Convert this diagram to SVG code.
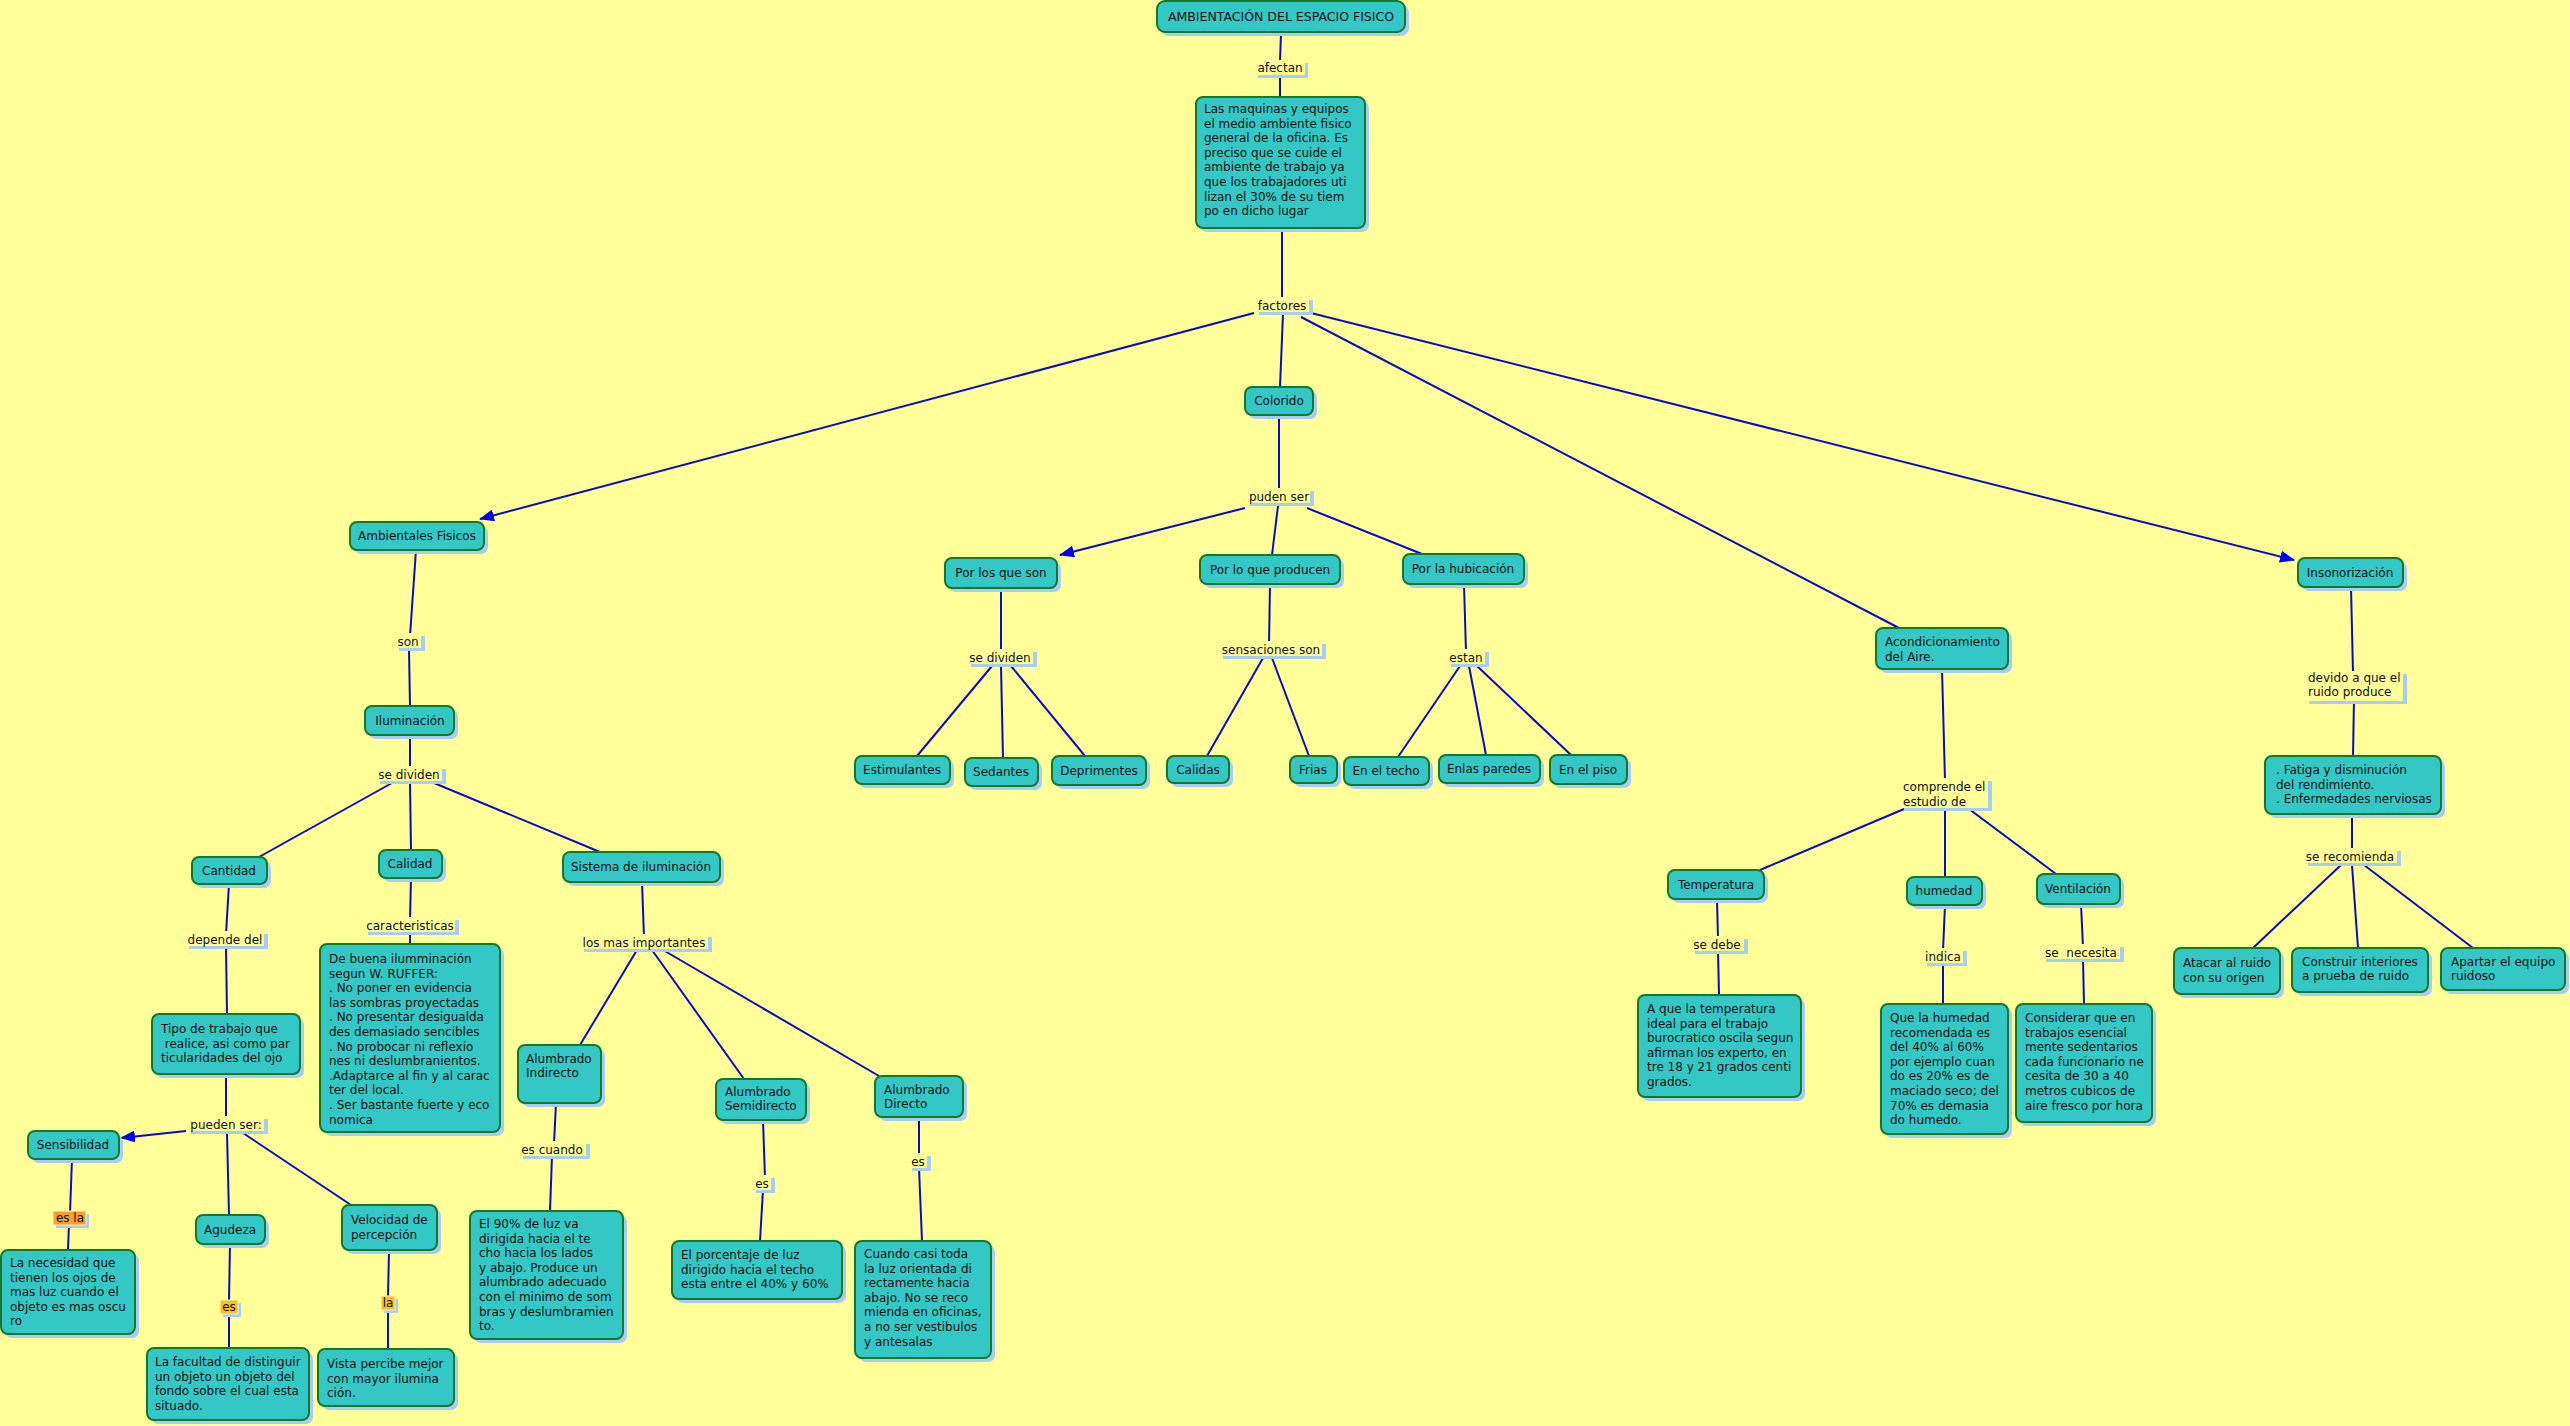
<svg xmlns="http://www.w3.org/2000/svg" width="2570" height="1426" viewBox="0 0 2570 1426">
<style>
text{font-family:"DejaVu Sans",Verdana,sans-serif;font-size:12px;fill:#111}
.m{text-anchor:middle}
.nd{fill:#33c7c6;stroke:#13782a;stroke-width:2}
.sh{fill:#a8ccf2}
.lb{fill:#ffff99}
.c line{stroke:#0b0bc4;stroke-width:2;fill:none}
.o1{fill:#f5a02a;stroke:#fff3c0;stroke-width:1}
.o2{fill:#f8c020;stroke:#fff3c0;stroke-width:1}
</style>
<defs>
<marker id="ar" markerUnits="userSpaceOnUse" markerWidth="16" markerHeight="12" refX="14" refY="6" orient="auto"><path d="M0,0 L15,6 L0,12 z" fill="#0000ff"/></marker>
</defs>
<rect width="2570" height="1426" fill="#ffff99"/>
<g id="connectors" class="c">
<line x1="1281" y1="33" x2="1280" y2="62"/>
<line x1="1280" y1="74" x2="1280" y2="97"/>
<line x1="1282" y1="230" x2="1282" y2="300"/>
<line x1="1254" y1="313" x2="480" y2="519" marker-end="url(#ar)"/>
<line x1="1283" y1="314" x2="1280" y2="387"/>
<line x1="1301" y1="317" x2="1899" y2="628"/>
<line x1="1311" y1="313" x2="2294" y2="560" marker-end="url(#ar)"/>
<line x1="1279" y1="417" x2="1279" y2="490"/>
<line x1="1245" y1="508" x2="1060" y2="555" marker-end="url(#ar)"/>
<line x1="1278" y1="506" x2="1272" y2="555"/>
<line x1="1307" y1="508" x2="1422" y2="554"/>
<line x1="1001" y1="588" x2="1001" y2="652"/>
<line x1="992" y1="666" x2="917" y2="756"/>
<line x1="1001" y1="666" x2="1003" y2="758"/>
<line x1="1011" y1="666" x2="1085" y2="756"/>
<line x1="1270" y1="584" x2="1269" y2="645"/>
<line x1="1263" y1="658" x2="1207" y2="756"/>
<line x1="1272" y1="658" x2="1309" y2="756"/>
<line x1="1464" y1="584" x2="1466" y2="652"/>
<line x1="1460" y1="666" x2="1398" y2="757"/>
<line x1="1469" y1="666" x2="1486" y2="755"/>
<line x1="1477" y1="666" x2="1571" y2="755"/>
<line x1="416" y1="550" x2="410" y2="636"/>
<line x1="409" y1="650" x2="410" y2="706"/>
<line x1="410" y1="735" x2="410" y2="769"/>
<line x1="392" y1="783" x2="259" y2="857"/>
<line x1="410" y1="783" x2="411" y2="850"/>
<line x1="434" y1="783" x2="600" y2="852"/>
<line x1="229" y1="884" x2="226" y2="934"/>
<line x1="226" y1="947" x2="227" y2="1014"/>
<line x1="226" y1="1074" x2="226" y2="1119"/>
<line x1="186" y1="1131" x2="121" y2="1138" marker-end="url(#ar)"/>
<line x1="227" y1="1133" x2="229" y2="1215"/>
<line x1="243" y1="1133" x2="351" y2="1205"/>
<line x1="72" y1="1159" x2="70" y2="1213"/>
<line x1="69" y1="1224" x2="68" y2="1250"/>
<line x1="230" y1="1244" x2="229" y2="1301"/>
<line x1="229" y1="1313" x2="229" y2="1348"/>
<line x1="389" y1="1250" x2="388" y2="1297"/>
<line x1="388" y1="1309" x2="388" y2="1349"/>
<line x1="411" y1="878" x2="410" y2="920"/>
<line x1="410" y1="932" x2="410" y2="944"/>
<line x1="642" y1="882" x2="644" y2="937"/>
<line x1="637" y1="950" x2="580" y2="1045"/>
<line x1="652" y1="950" x2="744" y2="1079"/>
<line x1="663" y1="950" x2="879" y2="1076"/>
<line x1="556" y1="1103" x2="554" y2="1144"/>
<line x1="552" y1="1156" x2="550" y2="1211"/>
<line x1="763" y1="1120" x2="765" y2="1178"/>
<line x1="763" y1="1190" x2="760" y2="1241"/>
<line x1="919" y1="1117" x2="919" y2="1156"/>
<line x1="919" y1="1168" x2="922" y2="1241"/>
<line x1="1942" y1="669" x2="1945" y2="780"/>
<line x1="1904" y1="809" x2="1760" y2="870"/>
<line x1="1945" y1="809" x2="1945" y2="877"/>
<line x1="1969" y1="809" x2="2056" y2="874"/>
<line x1="1717" y1="899" x2="1718" y2="939"/>
<line x1="1718" y1="951" x2="1719" y2="995"/>
<line x1="1945" y1="905" x2="1943" y2="951"/>
<line x1="1943" y1="963" x2="1943" y2="1004"/>
<line x1="2081" y1="904" x2="2083" y2="947"/>
<line x1="2083" y1="959" x2="2084" y2="1004"/>
<line x1="2351" y1="587" x2="2353" y2="672"/>
<line x1="2354" y1="700" x2="2353" y2="756"/>
<line x1="2352" y1="814" x2="2352" y2="851"/>
<line x1="2341" y1="865" x2="2253" y2="948"/>
<line x1="2352" y1="865" x2="2358" y2="948"/>
<line x1="2364" y1="865" x2="2473" y2="948"/>
</g>
<g id="labels">
<g id="l-afectan"><rect class="sh" x="1258" y="63" width="50" height="15"/><rect class="lb" x="1255" y="60" width="50" height="15"/><text class="m" x="1280" y="72">afectan</text></g>
<g id="l-factores"><rect class="sh" x="1259" y="300" width="54" height="15"/><rect class="lb" x="1255" y="297" width="54" height="15"/><text class="m" x="1282" y="310">factores</text></g>
<g id="l-puden"><rect class="sh" x="1250" y="491" width="64" height="15"/><rect class="lb" x="1246" y="488" width="64" height="15"/><text class="m" x="1279" y="501">puden ser</text></g>
<g id="l-sensaciones"><rect class="sh" x="1223" y="644" width="103" height="15"/><rect class="lb" x="1219" y="641" width="103" height="15"/><text class="m" x="1271" y="654">sensaciones son</text></g>
<g id="l-estan"><rect class="sh" x="1451" y="652" width="38" height="15"/><rect class="lb" x="1447" y="649" width="38" height="15"/><text class="m" x="1466" y="662">estan</text></g>
<g id="l-sedividen2"><rect class="sh" x="971" y="652" width="66" height="15"/><rect class="lb" x="967" y="649" width="66" height="15"/><text class="m" x="1000" y="662">se dividen</text></g>
<g id="l-son"><rect class="sh" x="399" y="636" width="26" height="15"/><rect class="lb" x="395" y="633" width="26" height="15"/><text class="m" x="408" y="646">son</text></g>
<g id="l-sedividen1"><rect class="sh" x="380" y="769" width="66" height="15"/><rect class="lb" x="376" y="766" width="66" height="15"/><text class="m" x="409" y="779">se dividen</text></g>
<g id="l-depende"><rect class="sh" x="189" y="934" width="79" height="15"/><rect class="lb" x="185" y="931" width="79" height="15"/><text class="m" x="225" y="944">depende del</text></g>
<g id="l-caracteristicas"><rect class="sh" x="368" y="920" width="91" height="15"/><rect class="lb" x="364" y="917" width="91" height="15"/><text class="m" x="410" y="930">caracteristicas</text></g>
<g id="l-losmas"><rect class="sh" x="584" y="937" width="128" height="15"/><rect class="lb" x="580" y="934" width="128" height="15"/><text class="m" x="644" y="947">los mas importantes</text></g>
<g id="l-pueden"><rect class="sh" x="191" y="1119" width="77" height="15"/><rect class="lb" x="187" y="1116" width="77" height="15"/><text class="m" x="226" y="1129">pueden ser:</text></g>
<g id="l-esla"><rect class="sh" x="56" y="1214" width="33" height="14"/><rect class="o1" x="53" y="1211" width="33" height="14"/><text class="m" x="70" y="1222">es la</text></g>
<g id="l-es1"><rect class="sh" x="223" y="1303" width="18" height="14"/><rect class="o2" x="220" y="1300" width="18" height="14"/><text class="m" x="229" y="1311">es</text></g>
<g id="l-la"><rect class="sh" x="384" y="1299" width="14" height="14"/><rect class="o2" x="381" y="1296" width="14" height="14"/><text class="m" x="388" y="1307">la</text></g>
<g id="l-escuando"><rect class="sh" x="523" y="1144" width="67" height="15"/><rect class="lb" x="519" y="1141" width="67" height="15"/><text class="m" x="552" y="1154">es cuando</text></g>
<g id="l-es2"><rect class="sh" x="756" y="1178" width="19" height="15"/><rect class="lb" x="752" y="1175" width="19" height="15"/><text class="m" x="762" y="1188">es</text></g>
<g id="l-es3"><rect class="sh" x="912" y="1156" width="19" height="15"/><rect class="lb" x="908" y="1153" width="19" height="15"/><text class="m" x="918" y="1166">es</text></g>
<g id="l-comprende"><rect class="sh" x="1904" y="781" width="88" height="30"/><rect class="lb" x="1900" y="778" width="88" height="30"/><text x="1903" y="791">comprende el</text><text x="1903" y="806">estudio de</text></g>
<g id="l-sedebe"><rect class="sh" x="1695" y="939" width="53" height="15"/><rect class="lb" x="1691" y="936" width="53" height="15"/><text class="m" x="1717" y="949">se debe</text></g>
<g id="l-indica"><rect class="sh" x="1927" y="951" width="40" height="15"/><rect class="lb" x="1923" y="948" width="40" height="15"/><text class="m" x="1943" y="961">indica</text></g>
<g id="l-senecesita"><rect class="sh" x="2046" y="947" width="78" height="15"/><rect class="lb" x="2042" y="944" width="78" height="15"/><text class="m" x="2081" y="957" xml:space="preserve">se  necesita</text></g>
<g id="l-devido"><rect class="sh" x="2309" y="674" width="98" height="30"/><rect class="lb" x="2305" y="671" width="98" height="30"/><text x="2308" y="682">devido a que el</text><text x="2308" y="696">ruido produce</text></g>
<g id="l-serecomienda"><rect class="sh" x="2308" y="851" width="93" height="15"/><rect class="lb" x="2304" y="848" width="93" height="15"/><text class="m" x="2350" y="861">se recomienda</text></g>
</g>
<g id="nodes">
<g id="n-title"><rect class="sh" x="1161" y="5" width="248" height="31" rx="8"/><rect class="nd" x="1157" y="1" width="248" height="31" rx="8"/><text class="m" x="1281" y="21" style="font-size:12.5px">AMBIENTACIÓN DEL ESPACIO FISICO</text></g>
<g id="n-maquinas"><rect class="sh" x="1200" y="101" width="169" height="131" rx="7"/><rect class="nd" x="1196" y="97" width="169" height="131" rx="7"/><text x="1204" y="113">Las maquinas y equipos</text><text x="1204" y="127.6">el medio ambiente fisico</text><text x="1204" y="142.2">general de la oficina. Es</text><text x="1204" y="156.8">preciso que se cuide el</text><text x="1204" y="171.4">ambiente de trabajo ya</text><text x="1204" y="186">que los trabajadores uti</text><text x="1204" y="200.6">lizan el 30% de su tiem</text><text x="1204" y="215.2">po en dicho lugar</text></g>
<g id="n-colorido"><rect class="sh" x="1249" y="391" width="68" height="28" rx="7"/><rect class="nd" x="1245" y="387" width="68" height="28" rx="7"/><text class="m" x="1279" y="405">Colorido</text></g>
<g id="n-ambientales"><rect class="sh" x="354" y="526" width="134" height="28" rx="7"/><rect class="nd" x="350" y="522" width="134" height="28" rx="7"/><text class="m" x="417" y="540">Ambientales Fisicos</text></g>
<g id="n-acond"><rect class="sh" x="1880" y="632" width="132" height="41" rx="7"/><rect class="nd" x="1876" y="628" width="132" height="41" rx="7"/><text x="1885" y="646">Acondicionamiento</text><text x="1885" y="661">del Aire.</text></g>
<g id="n-insono"><rect class="sh" x="2302" y="562" width="105" height="29" rx="7"/><rect class="nd" x="2298" y="558" width="105" height="29" rx="7"/><text class="m" x="2350" y="577">Insonorización</text></g>
<g id="n-porlosque"><rect class="sh" x="949" y="562" width="112" height="30" rx="7"/><rect class="nd" x="945" y="558" width="112" height="30" rx="7"/><text class="m" x="1001" y="577">Por los que son</text></g>
<g id="n-porloque"><rect class="sh" x="1204" y="559" width="140" height="29" rx="7"/><rect class="nd" x="1200" y="555" width="140" height="29" rx="7"/><text class="m" x="1270" y="574">Por lo que producen</text></g>
<g id="n-porlahub"><rect class="sh" x="1407" y="558" width="121" height="30" rx="7"/><rect class="nd" x="1403" y="554" width="121" height="30" rx="7"/><text class="m" x="1463" y="573">Por la hubicación</text></g>
<g id="n-estimulantes"><rect class="sh" x="859" y="760" width="95" height="28" rx="7"/><rect class="nd" x="855" y="756" width="95" height="28" rx="7"/><text class="m" x="902" y="774">Estimulantes</text></g>
<g id="n-sedantes"><rect class="sh" x="969" y="762" width="73" height="28" rx="7"/><rect class="nd" x="965" y="758" width="73" height="28" rx="7"/><text class="m" x="1001" y="776">Sedantes</text></g>
<g id="n-deprimentes"><rect class="sh" x="1056" y="760" width="94" height="29" rx="7"/><rect class="nd" x="1052" y="756" width="94" height="29" rx="7"/><text class="m" x="1099" y="775">Deprimentes</text></g>
<g id="n-calidas"><rect class="sh" x="1171" y="760" width="62" height="27" rx="7"/><rect class="nd" x="1167" y="756" width="62" height="27" rx="7"/><text class="m" x="1198" y="774">Calidas</text></g>
<g id="n-frias"><rect class="sh" x="1294" y="760" width="47" height="27" rx="7"/><rect class="nd" x="1290" y="756" width="47" height="27" rx="7"/><text class="m" x="1313" y="774">Frias</text></g>
<g id="n-techo"><rect class="sh" x="1348" y="761" width="85" height="28" rx="7"/><rect class="nd" x="1344" y="757" width="85" height="28" rx="7"/><text class="m" x="1386" y="775">En el techo</text></g>
<g id="n-paredes"><rect class="sh" x="1443" y="759" width="101" height="28" rx="7"/><rect class="nd" x="1439" y="755" width="101" height="28" rx="7"/><text class="m" x="1489" y="773">Enlas paredes</text></g>
<g id="n-piso"><rect class="sh" x="1554" y="759" width="77" height="29" rx="7"/><rect class="nd" x="1550" y="755" width="77" height="29" rx="7"/><text class="m" x="1588" y="774">En el piso</text></g>
<g id="n-iluminacion"><rect class="sh" x="369" y="710" width="89" height="29" rx="7"/><rect class="nd" x="365" y="706" width="89" height="29" rx="7"/><text class="m" x="410" y="725">Iluminación</text></g>
<g id="n-cantidad"><rect class="sh" x="196" y="861" width="75" height="27" rx="7"/><rect class="nd" x="192" y="857" width="75" height="27" rx="7"/><text class="m" x="229" y="875">Cantidad</text></g>
<g id="n-calidad"><rect class="sh" x="383" y="854" width="63" height="28" rx="7"/><rect class="nd" x="379" y="850" width="63" height="28" rx="7"/><text class="m" x="410" y="868">Calidad</text></g>
<g id="n-sistema"><rect class="sh" x="567" y="856" width="157" height="30" rx="7"/><rect class="nd" x="563" y="852" width="157" height="30" rx="7"/><text class="m" x="641" y="871">Sistema de iluminación</text></g>
<g id="n-tipo"><rect class="sh" x="156" y="1018" width="148" height="60" rx="7"/><rect class="nd" x="152" y="1014" width="148" height="60" rx="7"/><text x="161" y="1033">Tipo de trabajo que</text><text x="161" y="1048" xml:space="preserve"> realice, asi como par</text><text x="161" y="1062">ticularidades del ojo</text></g>
<g id="n-debuena"><rect class="sh" x="324" y="948" width="180" height="188" rx="7"/><rect class="nd" x="320" y="944" width="180" height="188" rx="7"/><text x="329" y="963">De buena ilumminación</text><text x="329" y="977.6">segun W. RUFFER:</text><text x="329" y="992.2">. No poner en evidencia</text><text x="329" y="1006.8">las sombras proyectadas</text><text x="329" y="1021.4">. No presentar desigualda</text><text x="329" y="1036">des demasiado sencibles</text><text x="329" y="1050.6">. No probocar ni reflexio</text><text x="329" y="1065.2">nes ni deslumbranientos.</text><text x="329" y="1079.8">.Adaptarce al fin y al carac</text><text x="329" y="1094.4">ter del local.</text><text x="329" y="1109">. Ser bastante fuerte y eco</text><text x="329" y="1123.6">nomica</text></g>
<g id="n-sensibilidad"><rect class="sh" x="32" y="1135" width="91" height="28" rx="7"/><rect class="nd" x="28" y="1131" width="91" height="28" rx="7"/><text class="m" x="73" y="1149">Sensibilidad</text></g>
<g id="n-agudeza"><rect class="sh" x="200" y="1219" width="69" height="29" rx="7"/><rect class="nd" x="196" y="1215" width="69" height="29" rx="7"/><text class="m" x="230" y="1234">Agudeza</text></g>
<g id="n-velocidad"><rect class="sh" x="346" y="1209" width="95" height="45" rx="7"/><rect class="nd" x="342" y="1205" width="95" height="45" rx="7"/><text x="351" y="1223.5">Velocidad de</text><text x="351" y="1238.5">percepción</text></g>
<g id="n-necesidad"><rect class="sh" x="5" y="1254" width="134" height="84" rx="7"/><rect class="nd" x="1" y="1250" width="134" height="84" rx="7"/><text x="10" y="1267">La necesidad que</text><text x="10" y="1282">tienen los ojos de</text><text x="10" y="1296">mas luz cuando el</text><text x="10" y="1311">objeto es mas oscu</text><text x="10" y="1325">ro</text></g>
<g id="n-facultad"><rect class="sh" x="151" y="1352" width="162" height="72" rx="7"/><rect class="nd" x="147" y="1348" width="162" height="72" rx="7"/><text x="155" y="1366">La facultad de distinguir</text><text x="155" y="1381">un objeto un objeto del</text><text x="155" y="1395">fondo sobre el cual esta</text><text x="155" y="1410">situado.</text></g>
<g id="n-vista"><rect class="sh" x="322" y="1353" width="136" height="57" rx="7"/><rect class="nd" x="318" y="1349" width="136" height="57" rx="7"/><text x="327" y="1368">Vista percibe mejor</text><text x="327" y="1383">con mayor ilumina</text><text x="327" y="1397">ción.</text></g>
<g id="n-indirecto"><rect class="sh" x="522" y="1049" width="83" height="58" rx="7"/><rect class="nd" x="518" y="1045" width="83" height="58" rx="7"/><text x="526" y="1063">Alumbrado</text><text x="526" y="1077">Indirecto</text></g>
<g id="n-semidirecto"><rect class="sh" x="720" y="1083" width="90" height="41" rx="7"/><rect class="nd" x="716" y="1079" width="90" height="41" rx="7"/><text x="725" y="1096">Alumbrado</text><text x="725" y="1110">Semidirecto</text></g>
<g id="n-directo"><rect class="sh" x="879" y="1080" width="88" height="41" rx="7"/><rect class="nd" x="875" y="1076" width="88" height="41" rx="7"/><text x="884" y="1094">Alumbrado</text><text x="884" y="1108">Directo</text></g>
<g id="n-90"><rect class="sh" x="474" y="1215" width="153" height="128" rx="7"/><rect class="nd" x="470" y="1211" width="153" height="128" rx="7"/><text x="479" y="1228">El 90% de luz va</text><text x="479" y="1242.6">dirigida hacia el te</text><text x="479" y="1257.2">cho hacia los lados</text><text x="479" y="1271.8">y abajo. Produce un</text><text x="479" y="1286.4">alumbrado adecuado</text><text x="479" y="1301">con el minimo de som</text><text x="479" y="1315.6">bras y deslumbramien</text><text x="479" y="1330.2">to.</text></g>
<g id="n-porcentaje"><rect class="sh" x="676" y="1245" width="170" height="58" rx="7"/><rect class="nd" x="672" y="1241" width="170" height="58" rx="7"/><text x="681" y="1259">El porcentaje de luz</text><text x="681" y="1274">dirigido hacia el techo</text><text x="681" y="1288">esta entre el 40% y 60%</text></g>
<g id="n-cuando"><rect class="sh" x="859" y="1245" width="136" height="117" rx="7"/><rect class="nd" x="855" y="1241" width="136" height="117" rx="7"/><text x="864" y="1258">Cuando casi toda</text><text x="864" y="1272.6">la luz orientada di</text><text x="864" y="1287.2">rectamente hacia</text><text x="864" y="1301.8">abajo. No se reco</text><text x="864" y="1316.4">mienda en oficinas,</text><text x="864" y="1331">a no ser vestibulos</text><text x="864" y="1345.6">y antesalas</text></g>
<g id="n-temperatura"><rect class="sh" x="1672" y="874" width="96" height="29" rx="7"/><rect class="nd" x="1668" y="870" width="96" height="29" rx="7"/><text class="m" x="1716" y="889">Temperatura</text></g>
<g id="n-humedad"><rect class="sh" x="1911" y="881" width="75" height="28" rx="7"/><rect class="nd" x="1907" y="877" width="75" height="28" rx="7"/><text class="m" x="1944" y="895">humedad</text></g>
<g id="n-ventilacion"><rect class="sh" x="2041" y="878" width="83" height="30" rx="7"/><rect class="nd" x="2037" y="874" width="83" height="30" rx="7"/><text class="m" x="2078" y="893">Ventilación</text></g>
<g id="n-aque"><rect class="sh" x="1642" y="999" width="163" height="102" rx="7"/><rect class="nd" x="1638" y="995" width="163" height="102" rx="7"/><text x="1647" y="1013">A que la temperatura</text><text x="1647" y="1027.6">ideal para el trabajo</text><text x="1647" y="1042.2">burocratico oscila segun</text><text x="1647" y="1056.8">afirman los experto, en</text><text x="1647" y="1071.4">tre 18 y 21 grados centi</text><text x="1647" y="1086">grados.</text></g>
<g id="n-quehumedad"><rect class="sh" x="1885" y="1008" width="127" height="130" rx="7"/><rect class="nd" x="1881" y="1004" width="127" height="130" rx="7"/><text x="1890" y="1022">Que la humedad</text><text x="1890" y="1036.6">recomendada es</text><text x="1890" y="1051.2">del 40% al 60%</text><text x="1890" y="1065.8">por ejemplo cuan</text><text x="1890" y="1080.4">do es 20% es de</text><text x="1890" y="1095">maciado seco; del</text><text x="1890" y="1109.6">70% es demasia</text><text x="1890" y="1124.2">do humedo.</text></g>
<g id="n-considerar"><rect class="sh" x="2020" y="1008" width="136" height="118" rx="7"/><rect class="nd" x="2016" y="1004" width="136" height="118" rx="7"/><text x="2025" y="1022">Considerar que en</text><text x="2025" y="1036.6">trabajos esencial</text><text x="2025" y="1051.2">mente sedentarios</text><text x="2025" y="1065.8">cada funcionario ne</text><text x="2025" y="1080.4">cesita de 30 a 40</text><text x="2025" y="1095">metros cubicos de</text><text x="2025" y="1109.6">aire fresco por hora</text></g>
<g id="n-fatiga"><rect class="sh" x="2269" y="760" width="176" height="58" rx="7"/><rect class="nd" x="2265" y="756" width="176" height="58" rx="7"/><text x="2276" y="774">. Fatiga y disminución</text><text x="2276" y="789">del rendimiento.</text><text x="2276" y="803">. Enfermedades nerviosas</text></g>
<g id="n-atacar"><rect class="sh" x="2178" y="952" width="106" height="46" rx="7"/><rect class="nd" x="2174" y="948" width="106" height="46" rx="7"/><text x="2183" y="967">Atacar al ruido</text><text x="2183" y="982">con su origen</text></g>
<g id="n-construir"><rect class="sh" x="2296" y="952" width="136" height="44" rx="7"/><rect class="nd" x="2292" y="948" width="136" height="44" rx="7"/><text x="2302" y="966">Construir interiores</text><text x="2302" y="980">a prueba de ruido</text></g>
<g id="n-apartar"><rect class="sh" x="2445" y="952" width="124" height="42" rx="7"/><rect class="nd" x="2441" y="948" width="124" height="42" rx="7"/><text x="2451" y="966">Apartar el equipo</text><text x="2451" y="980">ruidoso</text></g>
</g>
</svg>
